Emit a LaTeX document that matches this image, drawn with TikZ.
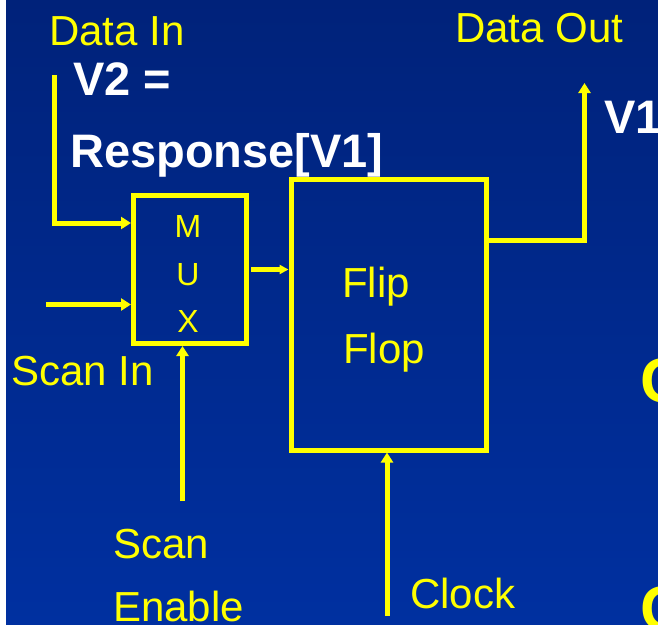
\documentclass[tikz,border=0pt]{standalone}
\usepackage{fontspec}
\setmainfont{Liberation Sans}
\usetikzlibrary{arrows.meta}
\definecolor{bgtop}{RGB}{0,34,122}
\definecolor{bgbot}{RGB}{0,48,160}
\definecolor{ylw}{RGB}{255,255,0}
\begin{document}
\begin{tikzpicture}[x=1pt,y=-1pt,
  wire/.style={draw=ylw,line width=5pt},
  arr/.style={wire,-{Triangle[width=12pt,length=10pt]}},
  arrsmall/.style={wire,-{Triangle[width=9pt,length=9pt]}},
  blockbox/.style={draw=ylw,line width=5pt,rectangle,inner sep=0pt},
  lbl/.style={text=ylw,inner sep=0pt,anchor=base west,font=\fontsize{42}{50}\selectfont},
  wlbl/.style={text=white,inner sep=0pt,anchor=base west,font=\fontsize{47}{54}\selectfont\bfseries},
  muxl/.style={text=ylw,inner sep=0pt,anchor=base,font=\fontsize{32}{38}\selectfont},
  cut/.style={text=ylw,inner sep=0pt,anchor=base west,font=\fontsize{63}{70}\selectfont\bfseries}]
\useasboundingbox (0,0) rectangle (658,624);
\clip (0,0) rectangle (658,624);
\fill[white] (0,0) rectangle (6,624);
\shade[top color=bgtop,bottom color=bgbot] (6,0) rectangle (658,624);

% blocks
\node[blockbox,minimum width=113pt,minimum height=148pt] (mux) at (190,269.5) {};
\node[blockbox,minimum width=195pt,minimum height=271pt] (ff) at (388.5,314.5) {};

% mux letters
\node[muxl] (m1) at (188,237) {M};
\node[muxl] (m2) at (188,285) {U};
\node[muxl] (m3) at (188,332) {X};

% flip flop text
\node[lbl] (flip) at (342,297) {Flip};
\node[lbl] (flop) at (343,363) {Flop};

% labels
\node[lbl] (datain) at (49,45) {Data In};
\node[lbl] (dataout) at (455,42) {Data Out};
\node[lbl] (scanin) at (11,385) {Scan In};
\node[lbl] (scan) at (113,558) {Scan};
\node[lbl] (enable) at (113,621) {Enable};
\node[lbl] (clock) at (410,608) {Clock};

\node[wlbl] (v2) at (73,95) {V2 =};
\node[wlbl] (resp) at (70,167) {Response[V1]};
\node[wlbl] (v1) at (604,133) {V1};

\node[cut] (c1) at (640,402) {C};
\node[cut] (c2) at (640,630) {C};

% connectors
\coordinate (din) at (54.5,75);
\coordinate (dturn) at (54.5,223);
\draw[arr] (din) -- (dturn) -- (dturn -| mux.west);

\coordinate (sin) at (46,304.5);
\draw[arr] (sin) -- (sin -| mux.west);

\coordinate (se) at (182.5,501);
\draw[arr] (se) -- (se |- mux.south);

\draw[arrsmall,shorten <=2pt] (mux.east) -- (mux.east -| ff.west);

\coordinate (clk) at (387,616);
\draw[arr] (clk) -- (clk |- ff.south);

\coordinate (oturn) at (584.5,240);
\coordinate (dout) at (584.5,83);
\draw[arr] (oturn -| ff.east) -- (oturn) -- (dout);
\end{tikzpicture}
\end{document}
